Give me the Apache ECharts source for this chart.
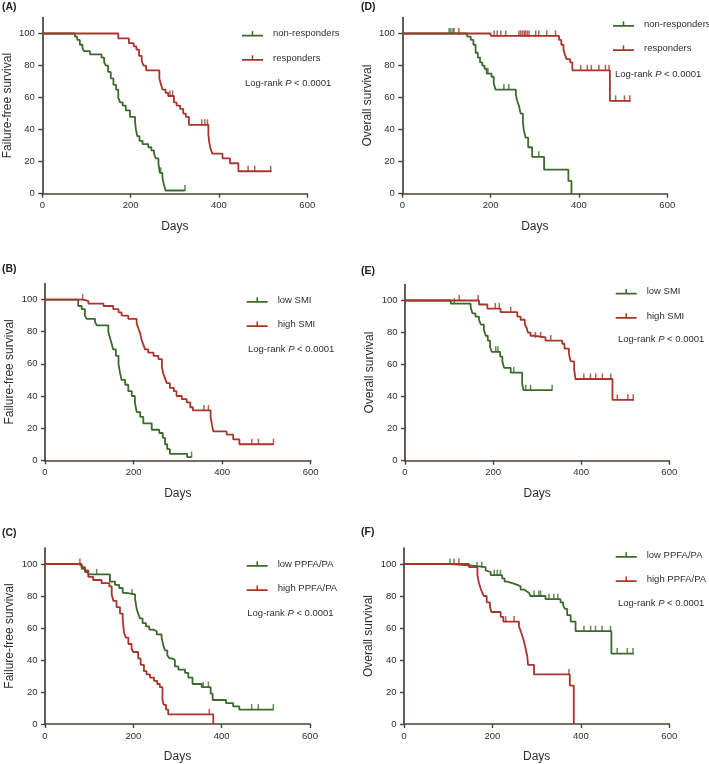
<!DOCTYPE html>
<html>
<head>
<meta charset="utf-8">
<script src="https://cdn.jsdelivr.net/npm/echarts@6/dist/echarts.min.js"></script>
<style>
html,body{margin:0;padding:0;background:#fff;}
#chart{width:709px;height:764px;}
</style>
</head>
<body>
<div id="chart"></div>
<script>
// ---------- tick labels ----------
const xTicks = [0, 200, 400, 600];
const yTicks = [0, 20, 40, 60, 80, 100];
const panelLabels = ['(A)', '(B)', '(C)', '(D)', '(E)', '(F)'];
const yNames = ['Failure-free survival', 'Failure-free survival', 'Failure-free survival', 'Overall survival', 'Overall survival', 'Overall survival'];
const xName = 'Days';
const pText = 'P';
const pValue = '< 0.0001';

// ---------- group names ----------
const namesAD = ['non-responders', 'responders'];
const namesBE = ['low SMI', 'high SMI'];
const namesCF = ['low PPFA/PA', 'high PPFA/PA'];

// ---------- Panel A: failure-free survival, responders ----------
const aGreen = [[0,100],[74,98],[79,96],[85,93],[91,91],[94,89],[108,87],[134,85],[140,82],[144,80],[149,76],[155,72],[161,68],[167,65],[172,60],[176,57],[182,55],[189,52],[198.5,48],[210,45],[212,40],[215,36],[220,33],[227,31],[240,29],[247,27],[253,25],[257,22],[263,19],[266,13],[272,10],[275,6],[279,2],[323,2]];
const aGreenCens = [268, 323];
const aRed = [[0,100],[172,97],[196,94],[207,92],[213,90],[219,86],[225,83],[229,80],[235,77],[265,72],[268,69],[272,65],[279,63],[285,61],[298,57],[304,55],[312,53],[319,50],[325,48],[332,43],[376,37],[378,32],[381,28],[385,25],[408,22],[425,19],[444,14],[519,14]];
const aRedCens = [289, 295, 361, 368, 374, 466, 481, 517];

// ---------- Panel B: failure-free survival, SMI ----------
const bGreen = [[0,100],[75,96],[83,94],[90,90],[94,88],[113,86],[117,84],[143,80],[147,76],[151,72],[154,69],[160,65],[166,60],[169,55],[173,50],[181,47],[188,43],[196,40],[203,36],[207,30],[215,27],[222,23],[241,19],[258,17],[266,14],[271,10],[276,7],[282,4],[321,2],[331,2]];
const bGreenCens = [331];
const bRed = [[0,100],[87,99],[98,97.5],[132,96],[154,94],[166,92],[173,90],[188,88],[207,85],[211,82],[215,79],[218,75],[222,72],[226,69],[233,67],[245,65],[256,63],[264,58],[267,54],[271,51],[275,48],[282,45],[291,43],[297,40],[309,38],[320,36],[328,33],[334,31],[374,27],[377,22],[380,18],[410,16],[425,13],[439,10],[516,10]];
const bRedCens = [85, 359, 369, 467, 482, 516];

// ---------- Panel C: failure-free survival, PPFA/PA ----------
const cGreen = [[0,100],[75.5,99],[83,97],[90.6,95],[98,93.5],[147,89],[158.5,87],[168,85],[176,82],[184,81],[204,78],[207.5,72],[211,69],[215,66],[221,63],[228.7,61],[236,59],[245,58],[253,56],[264,54],[268,49],[271.7,46],[277,43],[281.5,41],[289,40],[294,36],[302,34],[317,32],[324.5,29],[334,25],[354.7,23],[375,19],[379.6,15],[410,13],[426,11],[440,9],[517,9]];
const cGreenCens = [117, 197, 358, 370, 468, 483, 517];
const cRed = [[0,100],[83,98],[90.6,96],[98,92],[109,90],[128,88],[145.7,86],[151,81],[154.7,77],[162,73],[169.8,69],[176,65],[179,57],[183,54],[188.7,50],[196,47],[200,45],[211,41],[216.6,37],[224,33],[230,31],[237.7,29],[246.8,27],[254,25],[260,23],[266,15],[269,12],[274,9],[279,6],[381,0]];
const cRedCens = [79, 372];

// ---------- Panel D: overall survival, responders ----------
const dGreen = [[0,100],[147,98],[155,96],[161,93],[166,88],[171,85],[176,82],[181,80],[186,78],[191,75],[202,73],[207,69],[211,65],[257,62],[260,58],[264,55],[268,50],[273,45],[275,40],[279,35],[285,29],[294,23],[321,15],[376,8],[383,0]];
const dGreenCens = [106, 110, 115, 194, 230, 241, 309];
const dRed = [[0,100],[200,98.5],[355,96],[360,93],[365,90],[368,87],[372,84],[380,82],[385,77],[470,58],[517,58]];
const dRedCens = [117, 128, 208, 215, 223, 234, 264, 268, 272, 276, 279, 283, 287, 302, 309, 327, 347, 404, 419, 428, 445, 460, 468, 483, 503, 515];

// ---------- Panel E: overall survival, SMI ----------
const eGreen = [[0,100],[104,98],[149,96],[153,92],[160,90],[168,88],[172,85],[179,82],[183,78],[188,75],[193,71],[197,68],[216,65],[221,62],[225,58],[240,55],[266,48],[269,44],[334,44]];
const eGreenCens = [112, 206, 211, 247, 274, 285, 334];
const eRed = [[0,100],[168,97.5],[187,95],[217,92.7],[255,90],[262.5,88],[272,85],[276,83],[279,80],[285,78],[293,77],[319,75],[357,73],[362,70],[372,67],[376,62],[384,57],[387,51],[471,38],[520,38]];
const eRedCens = [123, 166, 205, 214, 240, 296, 308, 331, 406, 421, 433, 448, 467, 482, 506, 518];

// ---------- Panel F: overall survival, PPFA/PA ----------
const fGreen = [[0,100],[105.5,99],[154.5,98],[184.7,96],[188.4,95],[196,93],[222,91],[227.5,89],[233.7,88],[245,87],[256,86],[263.8,84],[271,83],[277,82],[282.6,81],[286,80],[320,78],[354,76],[360,74],[364,72],[369,68],[377,64],[388,58],[469,44],[520,44]];
const fGreenCens = [104, 165, 176, 204, 211, 218, 294, 305, 309, 328, 339, 348, 407, 422, 433, 448, 467, 482, 505, 518];
const fRed = [[0,100],[147,98],[166,93],[169.6,88],[173,85],[177,82],[181,80],[187,76],[194.5,73],[197.5,70],[218.6,67],[224.6,64],[260,61],[264,58],[267.6,55],[271,52],[275,47],[279,42],[280.4,37],[294,31],[375,24],[384,0]];
const fRedCens = [113, 124, 230, 249, 373];

// ---------- assembly ----------
const GREEN = '#3b6a2c';
const RED = '#a8342b';
const AXIS = '#4a3f37';
const TXT = '#2e2e2e';
const FONT = '"Liberation Sans", Arial, Helvetica, sans-serif';

function valAt(curve, t) {
  let v = curve[0][1];
  for (const p of curve) { if (p[0] <= t) v = p[1]; else break; }
  return v;
}

const panels = [
  {label: panelLabels[0], yName: yNames[0], names: namesAD, g: aGreen, gc: aGreenCens, r: aRed, rc: aRedCens,
   grid: {left: 42.3, top: 17.5, width: 265, height: 176.2}, legend: [242, 33.7], pv: [245, 84], lab: [2, 7.5]},
  {label: panelLabels[1], yName: yNames[1], names: namesBE, g: bGreen, gc: bGreenCens, r: bRed, rc: bRedCens,
   grid: {left: 45, top: 283.5, width: 265.7, height: 176.8}, legend: [246.7, 300], pv: [248, 350], lab: [2, 269.5]},
  {label: panelLabels[2], yName: yNames[2], names: namesCF, g: cGreen, gc: cGreenCens, r: cRed, rc: cRedCens,
   grid: {left: 45, top: 548, width: 265, height: 176}, legend: [246.7, 564], pv: [247.3, 614.3], lab: [2, 533.5]},
  {label: panelLabels[3], yName: yNames[3], names: namesAD, g: dGreen, gc: dGreenCens, r: dRed, rc: dRedCens,
   grid: {left: 402.3, top: 17.5, width: 265, height: 176.2}, legend: [613, 24], pv: [615, 75], lab: [361, 7.5]},
  {label: panelLabels[4], yName: yNames[4], names: namesBE, g: eGreen, gc: eGreenCens, r: eRed, rc: eRedCens,
   grid: {left: 405, top: 284.5, width: 264.3, height: 176.2}, legend: [615.7, 291.7], pv: [618, 340.7], lab: [361, 271.5]},
  {label: panelLabels[5], yName: yNames[5], names: namesCF, g: fGreen, gc: fGreenCens, r: fRed, rc: fRedCens,
   grid: {left: 404, top: 548, width: 265.3, height: 176}, legend: [615.7, 555], pv: [618, 604.3], lab: [361, 533]}
];

const legendIcon = 'path://M0,4.3H21V6.1H0Z M9.75,0.5H11.25V4.3H9.75Z';

const option = {
  animation: false,
  backgroundColor: '#ffffff',
  textStyle: {fontFamily: FONT},
  grid: [], xAxis: [], yAxis: [], series: [], legend: [], title: []
};

panels.forEach((p, i) => {
  option.grid.push(Object.assign({containLabel: false}, p.grid));
  option.xAxis.push({
    type: 'value', gridIndex: i, min: xTicks[0], max: xTicks[xTicks.length - 1], interval: xTicks[1] - xTicks[0],
    name: xName, nameLocation: 'middle', nameGap: 27,
    nameTextStyle: {fontSize: 12, color: TXT, fontFamily: FONT},
    axisLine: {lineStyle: {color: AXIS, width: 1.7}},
    axisTick: {length: 4, lineStyle: {color: AXIS, width: 1.4}},
    axisLabel: {fontSize: 9.5, color: TXT, margin: 7, fontFamily: FONT},
    splitLine: {show: false}
  });
  option.yAxis.push({
    type: 'value', gridIndex: i, min: 0, max: 110,
    name: p.yName, nameLocation: 'middle', nameGap: 29, nameRotate: 90,
    nameTextStyle: {fontSize: 12, color: TXT, fontFamily: FONT},
    axisLine: {show: true, lineStyle: {color: AXIS, width: 1.7}},
    axisTick: {show: true, length: 4, customValues: yTicks, lineStyle: {color: AXIS, width: 1.4}},
    axisLabel: {fontSize: 9.5, color: TXT, margin: 7.5, customValues: yTicks, fontFamily: FONT},
    splitLine: {show: false}
  });
  const curves = [[p.g, p.gc, GREEN, p.names[0]], [p.r, p.rc, RED, p.names[1]]];
  curves.forEach(([curve, cens, color, name]) => {
    option.series.push({
      type: 'line', name: name, xAxisIndex: i, yAxisIndex: i, data: curve, step: 'end',
      showSymbol: false, symbol: 'none', color: color,
      lineStyle: {color: color, width: 1.8}, emphasis: {disabled: true}, silent: true, z: 3
    });
    option.series.push({
      type: 'scatter', name: name + ' censored', xAxisIndex: i, yAxisIndex: i,
      data: cens.map(t => [t, valAt(curve, t)]),
      symbol: 'rect', symbolSize: [1.5, 6], symbolOffset: [0, -2.5],
      itemStyle: {color: color}, emphasis: {disabled: true}, silent: true, z: 4
    });
  });
  option.legend.push({
    data: p.names.map(n => ({name: n, icon: legendIcon})),
    orient: 'vertical', left: p.legend[0], top: p.legend[1] - 5,
    itemWidth: 21, itemHeight: 10, itemGap: 14.3, padding: 0,
    selectedMode: false,
    textStyle: {fontSize: 9.5, color: TXT, fontFamily: FONT, padding: [0, 0, 0, 5]}
  });
  option.title.push({
    text: 'Log-rank {i|' + pText + '} ' + pValue,
    left: p.pv[0], top: p.pv[1] - 6, padding: 0,
    textStyle: {fontSize: 9.5, fontWeight: 'normal', color: TXT, fontFamily: FONT,
      rich: {i: {fontStyle: 'italic', fontSize: 9.5, color: TXT, fontFamily: FONT}}}
  });
  option.title.push({
    text: p.label, left: p.lab[0], top: p.lab[1] - 6, padding: 0,
    textStyle: {fontSize: 10.5, fontWeight: 'bold', color: '#222', fontFamily: FONT}
  });
});

const chart = echarts.init(document.getElementById('chart'), null, {renderer: 'canvas'});
chart.setOption(option);
</script>
</body>
</html>
